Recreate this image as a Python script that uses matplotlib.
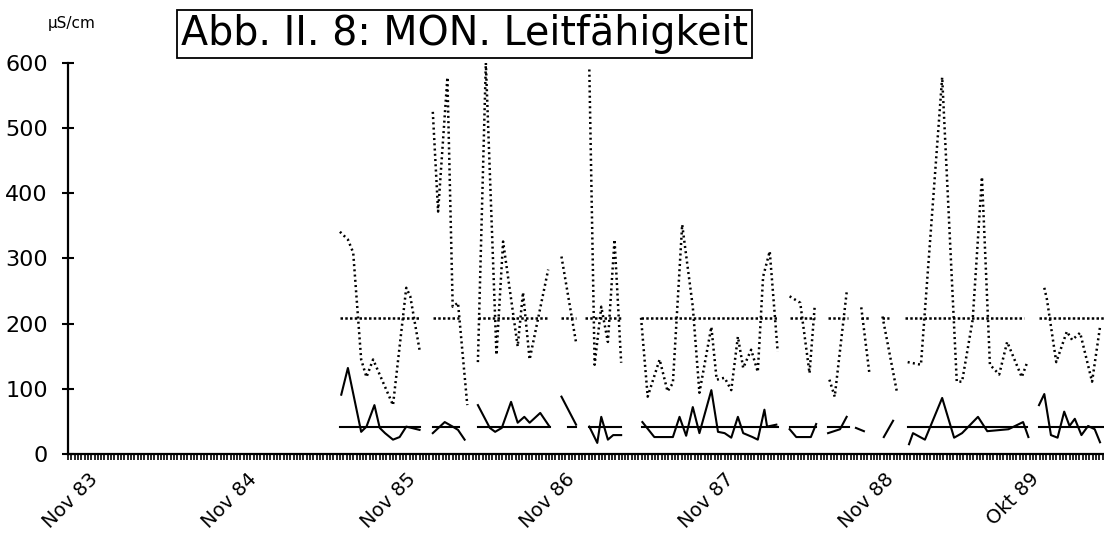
import numpy as np
import matplotlib
matplotlib.use("Agg")
import matplotlib.pyplot as plt
from matplotlib.ticker import MultipleLocator

nan = np.nan

# x = Monate seit Nov 83
tick_pos = [0, 12, 24, 36, 48, 60, 71]
tick_labels = ["Nov 83", "Nov 84", "Nov 85", "Nov 86", "Nov 87", "Nov 88", "Okt 89"]

# gepunktete Reihe (obere Werte), Lücken = nan
dot_x = [19.0, 19.6, 20.0, 20.6, 21.0, 21.5, 23.0, 24.0, 24.3, 25.0, nan,
         26.0, 26.4, 27.1, 27.5, 27.9, 28.6, nan,
         29.4, 30.0, 30.8, 31.3, 32.4, 32.8, 33.3, 34.7, nan,
         35.7, 36.8, nan,
         37.8, 38.2, 38.7, 39.2, 39.7, 40.2, nan,
         41.7, 42.2, 43.1, 43.7, 44.1, 44.8, 45.6, 46.1, 47.0, 47.4, 48.0, 48.5,
         49.0, 49.4, 50.0, 50.5, 50.9, 51.4, 52.0, nan,
         52.9, 53.7, 54.4, 54.8, nan,
         55.9, 56.3, 57.2, nan,
         58.3, 58.9, nan,
         59.9, 61.0, nan,
         61.8, 62.8, 64.4, 65.5, 65.9, 66.7, 67.4, 68.0, 68.7, 69.3, 70.4, 70.8, nan,
         72.1, 72.3, 73.0, 73.8, 74.2, 74.8, 75.7, 76.3]
dot_y = [341, 329, 309, 145, 118, 145, 75, 255, 242, 160, nan,
         525, 372, 578, 226, 232, 75, nan,
         141, 600, 152, 326, 165, 248, 145, 283, nan,
         303, 171, nan,
         590, 137, 226, 172, 329, 140, nan,
         209, 88, 145, 96, 109, 352, 226, 94, 195, 114, 117, 98,
         180, 132, 160, 126, 272, 311, 157, nan,
         242, 232, 124, 229, nan,
         114, 88, 248, nan,
         225, 126, nan,
         211, 94, nan,
         141, 137, 578, 111, 111, 206, 425, 137, 122, 172, 118, 140, nan,
         255, 237, 141, 188, 175, 186, 111, 195]

# durchgezogene Reihe (untere Werte)
sol_x = [19.1, 19.6, 20.6, 21.0, 21.6, 22.0, 22.4, 23.0, 23.5, 24.0, 25.0, nan,
         26.0, 26.9, 27.5, 27.9, 28.4, nan,
         29.4, 30.3, 30.7, 31.2, 31.9, 32.4, 32.9, 33.3, 34.1, 34.8, nan,
         35.7, 36.8, nan,
         37.8, 38.4, 38.7, 39.2, 39.6, 40.2, nan,
         41.8, 42.7, 44.1, 44.6, 45.1, 45.6, 46.1, 47.0, 47.5, 48.0, 48.5, 49.0,
         49.4, 50.1, 50.5, 51.0, 51.2, 51.9, nan,
         52.9, 53.4, 54.5, 54.9, nan,
         55.8, 56.7, 57.2, nan,
         57.9, 58.5, nan,
         60.0, 60.7, nan,
         61.9, 62.2, 63.1, 64.4, 65.3, 65.9, 67.1, 67.8, 69.4, 70.5, 70.9, nan,
         71.7, 72.1, 72.6, 73.1, 73.6, 74.0, 74.4, 74.9, 75.4, 75.9, 76.3]
sol_y = [91, 132, 34, 42, 75, 40, 32, 22, 26, 42, 37, nan,
         32, 49, 42, 37, 22, nan,
         75, 40, 34, 40, 80, 48, 57, 48, 63, 42, nan,
         88, 45, nan,
         42, 17, 57, 22, 29, 29, nan,
         49, 26, 26, 57, 28, 72, 32, 98, 34, 32, 25, 57,
         32, 26, 22, 68, 42, 45, nan,
         38, 26, 26, 46, nan,
         32, 38, 57, nan,
         40, 35, nan,
         26, 51, nan,
         15, 32, 22, 86, 25, 32, 57, 35, 38, 49, 26, nan,
         75, 92, 29, 25, 65, 43, 54, 29, 43, 38, 18]

# Mittelwerte als Segmente (Start, Ende)
dot_mean = 208
dot_mean_segs = [(19.0, 25.0), (26.0, 28.0), (29.4, 34.7), (35.7, 36.8), (37.5, 40.2),
                 (41.7, 52.0), (52.9, 54.8), (55.8, 57.3), (58.3, 58.9), (59.9, 60.4),
                 (61.6, 70.6), (71.7, 76.6)]
sol_mean = 42
sol_mean_segs = [(19.0, 25.0), (26.0, 28.0), (29.4, 34.8), (36.2, 36.8), (37.8, 40.2),
                 (41.8, 52.0), (52.9, 54.9), (55.8, 57.4), (61.8, 70.8), (71.7, 76.6)]

plt.rcParams["font.family"] = ["DejaVu Sans"]

fig = plt.figure(figsize=(11.04, 5.36), dpi=100)
ax = fig.add_axes([0.0616, 0.153, 0.9384, 0.7295])

ax.plot(dot_x, dot_y, color="black", lw=1.8, linestyle=(0, (0.8, 1.3)))
ax.plot(sol_x, sol_y, color="black", lw=1.5)
for a, b in dot_mean_segs:
    ax.plot([a, b], [dot_mean, dot_mean], color="black", lw=1.8, linestyle=(0, (1.0, 0.9)))
for a, b in sol_mean_segs:
    ax.plot([a, b], [sol_mean, sol_mean], color="black", lw=1.5)

ax.set_xlim(-1.5, 76.6)
ax.set_ylim(0, 600)
for s in ["top", "right"]:
    ax.spines[s].set_visible(False)
ax.spines["left"].set_linewidth(1.6)
ax.spines["bottom"].set_linewidth(1.6)

ax.set_yticks(range(0, 601, 100))
ax.tick_params(axis="y", direction="inout", length=9, width=1.5, labelsize=16, pad=10)
ax.set_xticks(tick_pos)
ax.set_xticklabels(tick_labels, rotation=45, ha="right", rotation_mode="anchor", fontsize=14)
ax.xaxis.set_minor_locator(MultipleLocator(0.25))
ax.tick_params(axis="x", which="both", direction="out", length=4, width=1.2, pad=7)

fig.text(0.065, 0.957, "µS/cm", fontsize=11, ha="center", va="center")
fig.text(0.421, 0.936, "Abb. II. 8: MON. Leitfähigkeit", fontsize=28.5, ha="center", va="center",
         bbox=dict(boxstyle="square,pad=0.1", facecolor="white", edgecolor="black", lw=1.3))

fig.savefig("out.png", dpi=100)
